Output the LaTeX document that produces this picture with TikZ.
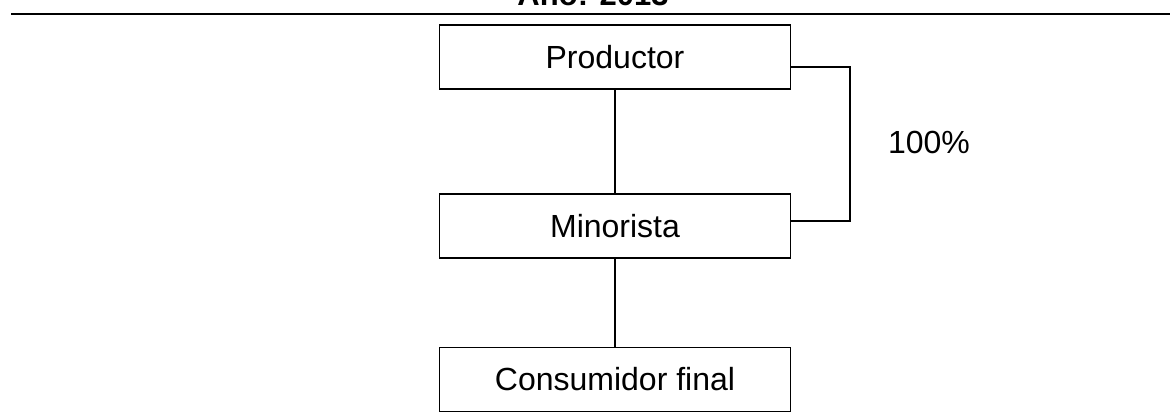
\documentclass[tikz,border=0pt]{standalone}
\usepackage{fontspec}
\setmainfont{Liberation Sans}
\begin{document}
\begin{tikzpicture}[x=0.5pt,y=-0.5pt,
    canal/.style={draw, line width=0.7pt, minimum width=175.5pt, minimum height=32pt, inner sep=0pt, font=\fontsize{16}{19}\selectfont},
    enlace/.style={line width=0.9pt}]
    \useasboundingbox (0,0) rectangle (1170,413);

    % Title cut at the top edge
    \node[anchor=base, font=\bfseries\fontsize{15.5}{18}\selectfont] (anio) at (593,5) {Año: 2013};
    \draw[line width=1.2pt] (11,14) -- (1170,14);

    \node[canal] (prod) at (615,57) {Productor};
    \node[canal] (mino) at (615,226) {Minorista};
    \node[canal] (cons) at (615,379.5) {Consumidor final};

    \draw[enlace] (prod) -- (mino);
    \draw[enlace] (mino) -- (cons);

    % Direct channel
    \coordinate (giro) at (850,144);
    \draw[enlace] ([yshift=-5pt]prod.east) -| (giro) |- ([yshift=2.5pt]mino.east);
    \node[font=\fontsize{16}{19}\selectfont] (pct) at (929,142) {100\%};
\end{tikzpicture}
\end{document}
